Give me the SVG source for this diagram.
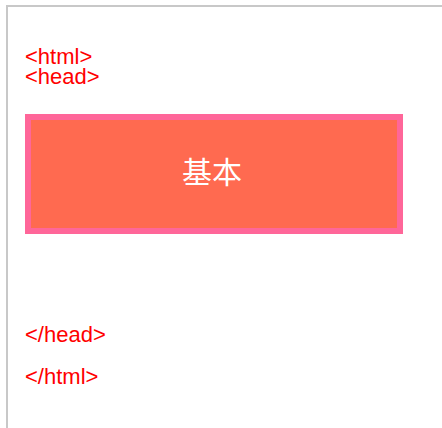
<svg xmlns="http://www.w3.org/2000/svg" width="442" height="428" viewBox="0 0 442 428">
<style>
.tag{font-family:"Liberation Sans",Arial,sans-serif;font-size:22px;fill:#ff0000}
.lbl{font-family:"Noto Sans CJK SC","Noto Sans CJK JP",sans-serif;font-size:30px;fill:#ffffff}
</style>
<rect x="0" y="0" width="442" height="428" fill="#ffffff"/>
<rect id="frame" x="7" y="6" width="450" height="440" fill="none" stroke="#c8c8c8" stroke-width="2"/>
<g id="html-open"><text class="tag" x="25" y="64">&lt;html&gt;</text></g>
<g id="head-open"><text class="tag" x="25" y="84">&lt;head&gt;</text></g>
<g id="basic">
<rect x="28" y="117" width="372" height="114" fill="#ff6a50" stroke="#ff6699" stroke-width="6"/>
<text class="lbl" x="212" y="183" text-anchor="middle">基本</text>
</g>
<g id="head-close"><text class="tag" x="25" y="342">&lt;/head&gt;</text></g>
<g id="html-close"><text class="tag" x="25" y="384">&lt;/html&gt;</text></g>
<g id="connectors"></g>
</svg>
